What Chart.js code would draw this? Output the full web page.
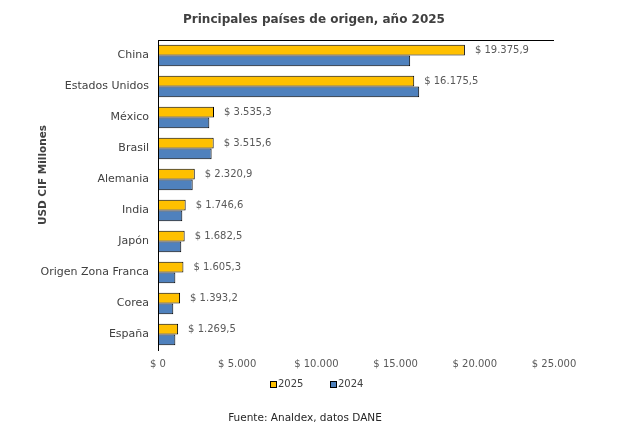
<!DOCTYPE html>
<html><head><meta charset="utf-8">
<script src="https://cdn.jsdelivr.net/npm/chart.js@4.4.0/dist/chart.umd.min.js"></script>
<style>html,body{margin:0;padding:0;background:#fff;}#wrap{width:624px;height:432px;}</style>
</head><body><div id="wrap"><canvas id="c" width="624" height="432"></canvas></div>
<script>
const categories = ["China","Estados Unidos","México","Brasil","Alemania","India","Japón","Origen Zona Franca","Corea","España"];
const values2025 = [19375.9,16175.5,3535.3,3515.6,2320.9,1746.6,1682.5,1605.3,1393.2,1269.5];
const values2024 = [15920,16490,3240,3385,2190,1535,1470,1095,965,1095];
const xTicks = [0,5000,10000,15000,20000,25000];
const seriesNames = ["2025","2024"];
const seriesColors = ["#FFC000","#4F81BD"];
const FONT = "'DejaVu Sans'";

function fmt(v, dec){
  const neg = v < 0; v = Math.abs(v);
  let s = v.toFixed(dec);
  let [i, d] = s.split('.');
  i = i.replace(/\B(?=(\d{3})+(?!\d))/g, '.');
  return (neg?'-':'') + i + (d ? ',' + d : '');
}

const extras = {
  id:'extras',
  afterDraw(chart){
    const ctx = chart.ctx, a = chart.chartArea;
    ctx.save();
    ctx.strokeStyle = '#000'; ctx.lineWidth = 1;
    ctx.beginPath();
    ctx.moveTo(a.left + 0.5, a.top); ctx.lineTo(a.left + 0.5, a.bottom);
    ctx.moveTo(a.left, a.top + 0.5); ctx.lineTo(a.right, a.top + 0.5);
    ctx.stroke();
    ctx.fillStyle = '#404040';
    ctx.font = 'bold 12px ' + FONT;
    ctx.textAlign = 'center'; ctx.textBaseline = 'middle';
    ctx.fillText('Principales países de origen, año 2025', 314, 20);
    ctx.save();
    ctx.translate(43, 175); ctx.rotate(-Math.PI/2);
    ctx.font = 'bold 10.5px ' + FONT;
    ctx.fillText('USD CIF Millones', 0, 0);
    ctx.restore();
    ctx.fillStyle = '#262626';
    ctx.font = '10.5px ' + FONT;
    ctx.fillText('Fuente: Analdex, datos DANE', 305, 418);
    // legend
    const lx = [270, 330];
    ctx.font = '10px ' + FONT;
    ctx.textAlign = 'left';
    seriesNames.forEach((n, i) => {
      ctx.fillStyle = seriesColors[i];
      ctx.fillRect(lx[i], 381, 6, 6);
      ctx.strokeStyle = '#000';
      ctx.strokeRect(lx[i] + 0.5, 381.5, 6, 6);
      ctx.fillStyle = '#404040';
      ctx.fillText(n, lx[i] + 8, 384.5);
    });
    ctx.restore();
  },
  afterDatasetsDraw(chart){
    const ctx = chart.ctx;
    const meta = chart.getDatasetMeta(0);
    ctx.save();
    ctx.fillStyle = '#595959';
    ctx.font = '10px ' + FONT;
    ctx.textAlign = 'left'; ctx.textBaseline = 'middle';
    meta.data.forEach((bar, i) => {
      ctx.fillText('$ ' + fmt(values2025[i], 1), bar.x + 10, bar.y);
    });
    ctx.restore();
  }
};

new Chart(document.getElementById('c'), {
  type:'bar',
  data:{
    labels: categories,
    datasets:[
      {label:seriesNames[0], data:values2025, backgroundColor:seriesColors[0], borderColor:'#000', borderWidth:1, borderSkipped:false, categoryPercentage:0.69, barPercentage:1},
      {label:seriesNames[1], data:values2024, backgroundColor:seriesColors[1], borderColor:'#000', borderWidth:1, borderSkipped:false, categoryPercentage:0.69, barPercentage:1}
    ]
  },
  options:{
    indexAxis:'y',
    responsive:false,
    animation:false,
    devicePixelRatio:1,
    layout:{padding:{top:40, left:0, right:70, bottom:61}},
    plugins:{
      legend:{display:false},
      tooltip:{enabled:false}
    },
    scales:{
      x:{
        min:0, max:25000,
        afterBuildTicks(scale){ scale.ticks = xTicks.map(v=>({value:v})); },
        grid:{display:false, drawTicks:false},
        border:{display:false},
        ticks:{color:'#595959', font:{family:"DejaVu Sans", size:10}, padding:8, callback:(v)=>'$ ' + fmt(v,0)},
        afterFit(scale){ scale.height = 21; }
      },
      y:{
        grid:{display:false, drawTicks:false},
        border:{display:true, color:'#000', width:1},
        ticks:{color:'#404040', font:{family:"DejaVu Sans", size:11}, padding:9},
        afterFit(scale){ scale.width = 158; }
      }
    }
  },
  plugins:[extras]
});
</script></body></html>
